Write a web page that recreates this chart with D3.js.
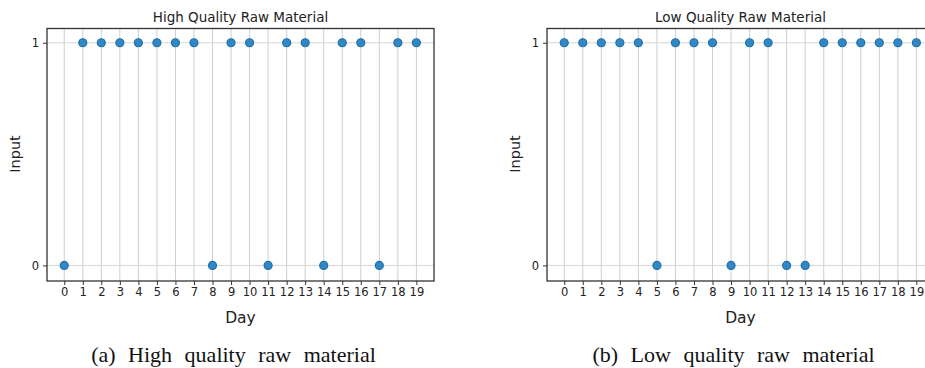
<!DOCTYPE html>
<html>
<head>
<meta charset="utf-8">
<script src="https://cdn.jsdelivr.net/npm/d3@7"></script>
<style>
  body { margin: 0; background: #fff; }
  svg { display: block; }
  .tick text { font-family: "DejaVu Sans", sans-serif; font-size: 11.5px; fill: #222; }
</style>
</head>
<body>
<svg></svg>
<script>
const width = 925;
const height = 368;

const days = [0, 1, 2, 3, 4, 5, 6, 7, 8, 9, 10, 11, 12, 13, 14, 15, 16, 17, 18, 19];
const highQuality = [0, 1, 1, 1, 1, 1, 1, 1, 0, 1, 1, 0, 1, 1, 0, 1, 1, 0, 1, 1];
const lowQuality = [1, 1, 1, 1, 1, 0, 1, 1, 1, 0, 1, 1, 0, 0, 1, 1, 1, 1, 1, 1];
const yTicks = [0, 1];

const svg = d3.select('svg')
  .attr('width', width)
  .attr('height', height);

function drawPanel(left, right, title, values, caption) {
  let xScale = d3.scaleLinear()
    .domain([-0.93, 19.95])
    .range([left, right]);

  let yScale = d3.scaleLinear()
    .domain([-0.07, 1.064])
    .range([281, 28.5]);

  let g = svg.append('g');
  let top = yScale.range()[1];
  let bottom = yScale.range()[0];

  // grid
  g.append('g')
    .selectAll('line')
    .data(days)
    .enter()
    .append('line')
      .attr('x1', d => xScale(d))
      .attr('x2', d => xScale(d))
      .attr('y1', top)
      .attr('y2', bottom)
      .attr('stroke', '#cfcfcf')
      .attr('stroke-width', 1);

  g.append('g')
    .selectAll('line')
    .data(yTicks)
    .enter()
    .append('line')
      .attr('x1', left)
      .attr('x2', right)
      .attr('y1', d => yScale(d))
      .attr('y2', d => yScale(d))
      .attr('stroke', '#d6d6d6')
      .attr('stroke-width', 1);

  // axes
  g.append('g')
    .attr('transform', 'translate(0,' + bottom + ')')
    .call(d3.axisBottom(xScale).tickValues(days).tickFormat(d3.format('d')).tickSize(4).tickPadding(3))
    .call(a => a.select('.domain').remove())
    .call(a => a.selectAll('.tick line').attr('stroke', '#333'));

  g.append('g')
    .attr('transform', 'translate(' + left + ',0)')
    .call(d3.axisLeft(yScale).tickValues(yTicks).tickFormat(d3.format('d')).tickSize(4).tickPadding(4))
    .call(a => a.select('.domain').remove())
    .call(a => a.selectAll('.tick line').attr('stroke', '#333'));

  // frame
  g.append('rect')
    .attr('x', left)
    .attr('y', top)
    .attr('width', right - left)
    .attr('height', bottom - top)
    .attr('fill', 'none')
    .attr('stroke', '#333')
    .attr('stroke-width', 1.3);

  // points
  g.append('g')
    .selectAll('circle')
    .data(days)
    .enter()
    .append('circle')
      .attr('cx', d => xScale(d))
      .attr('cy', (d, i) => yScale(values[i]))
      .attr('r', 4)
      .attr('fill', '#2f88c8')
      .attr('stroke', '#246fa3')
      .attr('stroke-width', 1.2);

  let mid = (left + right) / 2;

  g.append('text')
    .text(title)
    .attr('x', mid)
    .attr('y', 22)
    .style('text-anchor', 'middle')
    .style('font-family', 'DejaVu Sans, sans-serif')
    .style('font-size', '13.5px')
    .attr('fill', '#222');

  g.append('text')
    .text('Day')
    .attr('x', mid)
    .attr('y', 323)
    .style('text-anchor', 'middle')
    .style('font-family', 'DejaVu Sans, sans-serif')
    .style('font-size', '15.5px')
    .attr('fill', '#222');

  g.append('text')
    .text('Input')
    .attr('transform', 'translate(' + (left - 27) + ',154) rotate(-90)')
    .style('text-anchor', 'middle')
    .style('font-family', 'DejaVu Sans, sans-serif')
    .style('font-size', '14.5px')
    .attr('fill', '#222');

  g.append('text')
    .text(caption)
    .attr('x', mid - 7)
    .attr('y', 362)
    .style('text-anchor', 'middle')
    .style('font-family', 'Liberation Serif, serif')
    .style('font-size', '22px')
    .style('word-spacing', '7px')
    .attr('fill', '#111');
}

drawPanel(47, 434, 'High Quality Raw Material', highQuality, '(a) High quality raw material');
drawPanel(547, 934, 'Low Quality Raw Material', lowQuality, '(b) Low quality raw material');
</script>
</body>
</html>
